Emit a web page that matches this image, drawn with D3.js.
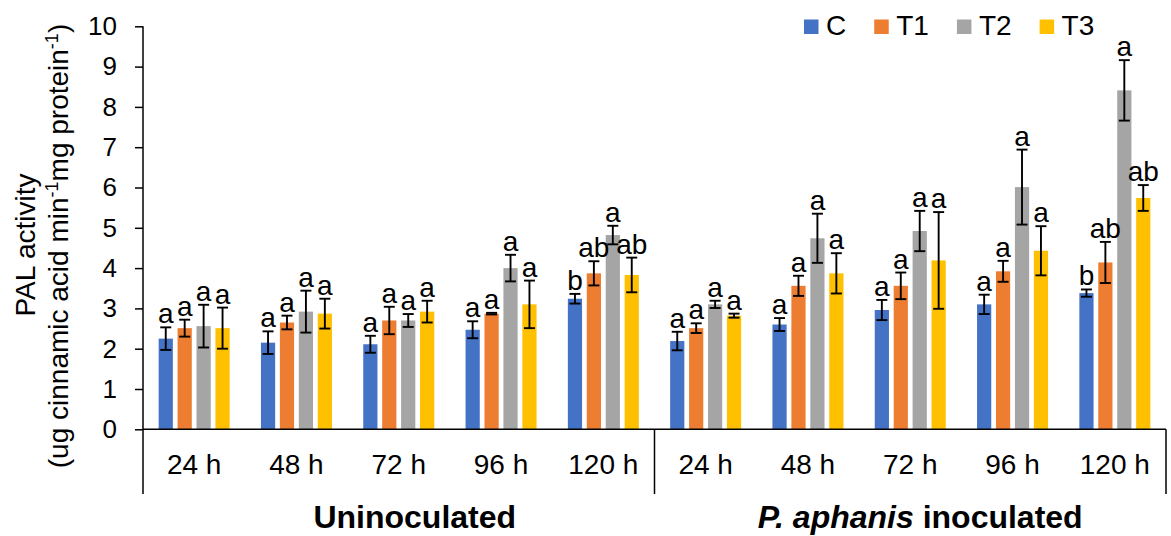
<!DOCTYPE html>
<html>
<head>
<meta charset="utf-8">
<script src="https://cdn.jsdelivr.net/npm/d3@7"></script>
<style>
  body { margin: 0; background: #fff; }
  text { font-family: Arial, "Liberation Sans", sans-serif; fill: #000; }
</style>
</head>
<body>
<div id="chart"></div>
<script>
// chart data
const times = ["24 h", "48 h", "72 h", "96 h", "120 h"];
const groups = ["Uninoculated", "inoculated"];
const series = ["C", "T1", "T2", "T3"];
const colors = ["#4472C4", "#ED7D31", "#A5A5A5", "#FFC000"];
const yTicks = [0, 1, 2, 3, 4, 5, 6, 7, 8, 9, 10];

// 10 bars per series: 5 uninoculated then 5 inoculated
const valC  = [2.25, 2.15, 2.11, 2.47, 3.24, 2.19, 2.60, 2.96, 3.10, 3.38];
const valT1 = [2.51, 2.65, 2.70, 2.87, 3.87, 2.51, 3.56, 3.56, 3.92, 4.14];
const valT2 = [2.56, 2.92, 2.70, 4.00, 4.82, 3.10, 4.74, 4.92, 6.01, 8.41];
const valT3 = [2.51, 2.87, 2.92, 3.10, 3.83, 2.82, 3.87, 4.19, 4.43, 5.74];
const errC  = [0.28, 0.28, 0.21, 0.21, 0.12, 0.23, 0.16, 0.25, 0.24, 0.09];
const errT1 = [0.21, 0.17, 0.34, 0.02, 0.30, 0.12, 0.25, 0.33, 0.26, 0.51];
const errT2 = [0.53, 0.52, 0.16, 0.33, 0.23, 0.09, 0.61, 0.50, 0.93, 0.75];
const errT3 = [0.51, 0.37, 0.27, 0.59, 0.43, 0.05, 0.50, 1.20, 0.61, 0.32];
const letC  = ["a", "a", "a", "a", "b", "a", "a", "a", "a", "b"];
const letT1 = ["a", "a", "a", "a", "ab", "a", "a", "a", "a", "ab"];
const letT2 = ["a", "a", "a", "a", "a", "a", "a", "a", "a", "a"];
const letT3 = ["a", "a", "a", "a", "ab", "a", "a", "a", "a", "ab"];

const vals = [valC, valT1, valT2, valT3];
const errs = [errC, errT1, errT2, errT3];
const lets = [letC, letT1, letT2, letT3];

const W = 1171, H = 536;
const plotL = 143, plotR = 1166, plotT = 26.3, plotB = 429.3;

const svg = d3.select("#chart").append("svg")
    .attr("width", W)
    .attr("height", H);

const cats = d3.range(10);
const x0 = d3.scaleBand().domain(cats).range([plotL, plotR]);
const x1 = d3.scaleBand().domain(series).range([0, 71]).paddingInner(0.25);
const y = d3.scaleLinear().domain([0, 10]).range([plotB, plotT]);
const off = (x0.bandwidth() - 71) / 2;

// flatten for drawing
const bars = [];
series.forEach((s, si) => {
  cats.forEach(c => {
    bars.push({s, si, c, v: vals[si][c], e: errs[si][c], l: lets[si][c]});
  });
});
const bx = d => x0(d.c) + off + x1(d.s);

// y axis
const yAxis = svg.append("g")
    .attr("transform", `translate(${plotL},0)`)
    .call(d3.axisLeft(y).tickValues(yTicks).tickSize(8).tickPadding(18).tickFormat(d3.format("d")));
yAxis.select(".domain").remove();
yAxis.selectAll("line").attr("stroke", "#000").attr("stroke-width", 1.5);
yAxis.selectAll("text").style("font-size", "26px");

// bars
svg.append("g").selectAll("rect")
  .data(bars)
  .join("rect")
    .attr("x", bx)
    .attr("y", d => y(d.v))
    .attr("width", x1.bandwidth())
    .attr("height", d => y(0) - y(d.v))
    .attr("fill", d => colors[d.si]);

// error bars
const eb = svg.append("g").attr("stroke", "#000").attr("stroke-width", 1.9);
bars.forEach(d => {
  const cx = bx(d) + x1.bandwidth() / 2;
  eb.append("line").attr("x1", cx).attr("x2", cx).attr("y1", y(d.v + d.e)).attr("y2", y(d.v - d.e));
  eb.append("line").attr("x1", cx - 5.5).attr("x2", cx + 5.5).attr("y1", y(d.v + d.e)).attr("y2", y(d.v + d.e));
  eb.append("line").attr("x1", cx - 5.5).attr("x2", cx + 5.5).attr("y1", y(d.v - d.e)).attr("y2", y(d.v - d.e));
});

// significance letters
svg.append("g").selectAll("text")
  .data(bars)
  .join("text")
    .attr("x", d => bx(d) + x1.bandwidth() / 2)
    .attr("y", d => y(d.v + d.e) - 4)
    .attr("text-anchor", "middle")
    .style("font-size", "28px")
    .text(d => d.l);

// axes lines
const ax = svg.append("g").attr("stroke", "#000").attr("stroke-width", 1.5);
ax.append("line").attr("x1", plotL).attr("x2", plotL).attr("y1", plotT).attr("y2", 494);
ax.append("line").attr("x1", plotL).attr("x2", plotR).attr("y1", plotB).attr("y2", plotB);
ax.append("line").attr("x1", x0(5)).attr("x2", x0(5)).attr("y1", plotB).attr("y2", 494);
ax.append("line").attr("x1", plotR).attr("x2", plotR).attr("y1", plotB).attr("y2", 494);

// category labels
svg.append("g").selectAll("text")
  .data(cats)
  .join("text")
    .attr("x", c => x0(c) + x0.bandwidth() / 2)
    .attr("y", 474)
    .attr("text-anchor", "middle")
    .style("font-size", "28px")
    .text(c => times[c % 5]);

// group labels
svg.append("text")
    .attr("x", (x0(0) + x0(4) + x0.bandwidth()) / 2 + 16)
    .attr("y", 528)
    .attr("text-anchor", "middle")
    .style("font-size", "32px")
    .style("font-weight", "bold")
    .text(groups[0]);
const g2 = svg.append("text")
    .attr("x", (x0(5) + plotR) / 2 + 10)
    .attr("y", 528)
    .attr("text-anchor", "middle")
    .style("font-size", "32px")
    .style("font-weight", "bold");
g2.append("tspan").style("font-style", "italic").text("P. aphanis");
g2.append("tspan").text(" " + groups[1]);

// y title
svg.append("text")
    .attr("transform", "rotate(-90)")
    .attr("text-anchor", "middle")
    .attr("x", -245).attr("y", 35)
    .style("font-size", "28px")
    .text("PAL activity");
const l2 = svg.append("text")
    .attr("transform", "rotate(-90)")
    .attr("text-anchor", "middle")
    .attr("x", -246).attr("y", 68)
    .style("font-size", "28px");
l2.append("tspan").text("(ug cinnamic acid min");
l2.append("tspan").attr("dy", -10).style("font-size", "18px").text("-1");
l2.append("tspan").attr("dy", 10).text("mg protein");
l2.append("tspan").attr("dy", -10).style("font-size", "18px").text("-1");
l2.append("tspan").attr("dy", 10).text(")");

// legend
const leg = svg.append("g");
let lx = 804;
series.forEach((s, i) => {
  leg.append("rect").attr("x", lx).attr("y", 19.5).attr("width", 14.5).attr("height", 14.5).attr("fill", colors[i]);
  const t = leg.append("text").attr("x", lx + 22).attr("y", 35).style("font-size", "28px").text(s);
  lx += 22 + t.node().getComputedTextLength() + 28;
});
</script>
</body>
</html>
